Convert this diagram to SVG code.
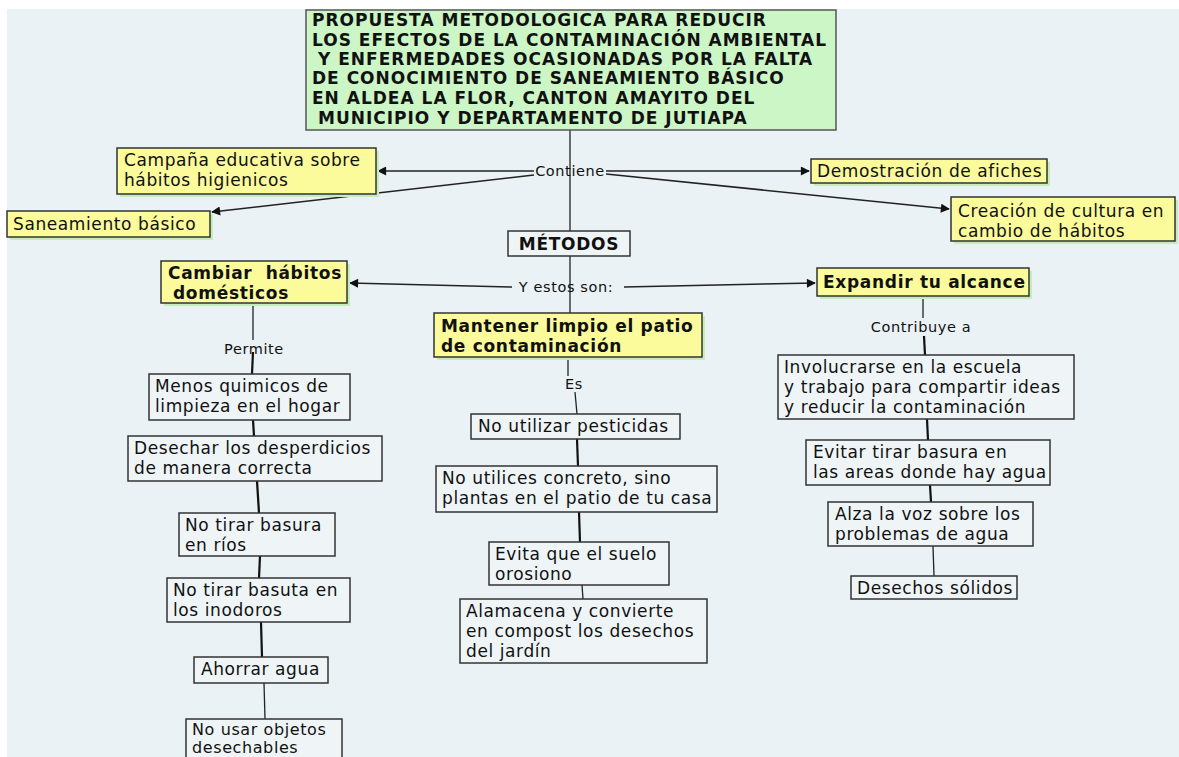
<svg xmlns="http://www.w3.org/2000/svg" width="1179" height="757" viewBox="0 0 1179 757">
<defs>
<style>
.bg{fill:#eaf2f5}
.title{fill:#ccf6c6;stroke:#555;stroke-width:1.5}
.yel{fill:#fbfb9c;stroke:#333;stroke-width:1.5}
.wht{fill:#eff5f7;stroke:#333;stroke-width:1.5}
.sh{fill:#c6ecbb}
.t{font-family:"DejaVu Sans","Verdana",sans-serif;font-size:17px;letter-spacing:0.6px;fill:#111}
.b{font-family:"DejaVu Sans","Verdana",sans-serif;font-size:17px;font-weight:bold;letter-spacing:0.7px;fill:#111}
.tt{font-family:"DejaVu Sans","Verdana",sans-serif;font-size:17px;font-weight:bold;letter-spacing:1px;fill:#111}
.l{font-family:"DejaVu Sans","Verdana",sans-serif;font-size:14.5px;letter-spacing:0.6px;fill:#111}
.c{stroke:#222;stroke-width:1.3;fill:none}
.c2{stroke:#111;stroke-width:2.2;fill:none}
.a{stroke:#222;stroke-width:1.5;fill:none;marker-end:url(#ah)}
</style>
<marker id="ah" viewBox="0 0 10 10" refX="9" refY="5" markerWidth="11" markerHeight="9" markerUnits="userSpaceOnUse" orient="auto">
<path d="M0,0 L10,5 L0,10 z" fill="#111"/>
</marker>
</defs>
<rect x="0" y="0" width="1179" height="757" fill="#ffffff"/>
<rect class="bg" x="7" y="9" width="1172" height="748"/>

<g id="connectors">
<line class="c" x1="570" y1="130" x2="570" y2="231"/>
<line class="a" x1="534" y1="171" x2="378" y2="171"/>
<line class="a" x1="534" y1="175" x2="212" y2="212"/>
<line class="a" x1="606" y1="171" x2="809" y2="171"/>
<line class="a" x1="606" y1="174" x2="949" y2="209"/>
<line class="c" x1="570" y1="256" x2="570" y2="313"/>
<line class="a" x1="512" y1="287" x2="350" y2="283"/>
<line class="a" x1="624" y1="287" x2="815" y2="283"/>
<line class="c" x1="253" y1="305" x2="253" y2="340"/>
<line class="c2" x1="253" y1="352" x2="252" y2="374"/>
<line class="c2" x1="253" y1="420" x2="254" y2="436"/>
<line class="c2" x1="257" y1="481" x2="259" y2="513"/>
<line class="c2" x1="260" y1="556" x2="259" y2="578"/>
<line class="c2" x1="261" y1="622" x2="262" y2="657"/>
<line class="c" x1="264" y1="683" x2="265" y2="719"/>
<line class="c" x1="568" y1="358" x2="568" y2="376"/>
<line class="c" x1="575" y1="392" x2="577" y2="414"/>
<line class="c2" x1="577" y1="439" x2="578" y2="466"/>
<line class="c2" x1="579" y1="512" x2="580" y2="542"/>
<line class="c" x1="582" y1="585" x2="583" y2="599"/>
<line class="c" x1="923" y1="299" x2="923" y2="318"/>
<line class="c2" x1="924" y1="336" x2="925" y2="355"/>
<line class="c2" x1="927" y1="419" x2="928" y2="440"/>
<line class="c2" x1="930" y1="485" x2="931" y2="502"/>
<line class="c" x1="933" y1="546" x2="934" y2="576"/>
<text class="l" x="570" y="176" text-anchor="middle">Contiene</text>
<text class="l" x="566" y="292" text-anchor="middle">Y estos son:</text>
<text class="l" x="254" y="354" text-anchor="middle">Permite</text>
<text class="l" x="574" y="389" text-anchor="middle">Es</text>
<text class="l" x="921" y="332" text-anchor="middle">Contribuye a</text>
</g>

<g id="n-title">
<rect class="title" x="306" y="10" width="530" height="120"/>
<text class="tt" x="312" y="26">PROPUESTA METODOLOGICA PARA REDUCIR</text>
<text class="tt" x="312" y="46">LOS EFECTOS DE LA CONTAMINACIÓN AMBIENTAL</text>
<text class="tt" x="318" y="65">Y ENFERMEDADES OCASIONADAS POR LA FALTA</text>
<text class="tt" x="312" y="84">DE CONOCIMIENTO DE SANEAMIENTO BÁSICO</text>
<text class="tt" x="312" y="104">EN ALDEA LA FLOR, CANTON AMAYITO DEL</text>
<text class="tt" x="318" y="124">MUNICIPIO Y DEPARTAMENTO DE JUTIAPA</text>
</g>

<g id="n-campana">
<rect class="sh" x="120" y="151" width="259" height="46"/>
<rect class="yel" x="117" y="148" width="259" height="46"/>
<text class="t" x="124" y="166">Campaña educativa sobre</text>
<text class="t" x="124" y="186">hábitos higienicos</text>
</g>
<g id="n-saneamiento">
<rect class="sh" x="10" y="214" width="203" height="26"/>
<rect class="yel" x="7" y="211" width="203" height="26"/>
<text class="t" x="13" y="230">Saneamiento básico</text>
</g>
<g id="n-demostracion">
<rect class="sh" x="814" y="162" width="236" height="24"/>
<rect class="yel" x="811" y="159" width="236" height="24"/>
<text class="t" x="817" y="177">Demostración de afiches</text>
</g>
<g id="n-creacion">
<rect class="sh" x="954" y="200" width="224" height="44"/>
<rect class="yel" x="951" y="197" width="224" height="44"/>
<text class="t" x="958" y="217">Creación de cultura en</text>
<text class="t" x="958" y="237">cambio de hábitos</text>
</g>
<g id="n-metodos">
<rect class="wht" x="508" y="231" width="122" height="25"/>
<text class="b" x="569" y="250" text-anchor="middle">MÉTODOS</text>
</g>
<g id="n-cambiar">
<rect class="sh" x="164" y="264" width="186" height="42"/>
<rect class="yel" x="161" y="261" width="186" height="42"/>
<text class="b" x="168" y="279" xml:space="preserve">Cambiar  hábitos</text>
<text class="b" x="173" y="299">domésticos</text>
</g>
<g id="n-expandir">
<rect class="sh" x="820" y="271" width="212" height="28"/>
<rect class="yel" x="817" y="268" width="212" height="28"/>
<text class="b" x="823" y="288">Expandir tu alcance</text>
</g>
<g id="n-mantener">
<rect class="sh" x="437" y="316" width="268" height="44"/>
<rect class="yel" x="434" y="313" width="268" height="44"/>
<text class="b" x="441" y="332">Mantener limpio el patio</text>
<text class="b" x="441" y="352">de contaminación</text>
</g>

<g id="n-menos">
<rect class="wht" x="149" y="374" width="201" height="46"/>
<text class="t" x="155" y="392">Menos quimicos de</text>
<text class="t" x="155" y="412">limpieza en el hogar</text>
</g>
<g id="n-desechar">
<rect class="wht" x="128" y="436" width="254" height="45"/>
<text class="t" x="134" y="454">Desechar los desperdicios</text>
<text class="t" x="134" y="474">de manera correcta</text>
</g>
<g id="n-rios">
<rect class="wht" x="179" y="513" width="156" height="43"/>
<text class="t" x="185" y="531">No tirar basura</text>
<text class="t" x="185" y="551">en ríos</text>
</g>
<g id="n-inodoros">
<rect class="wht" x="167" y="578" width="183" height="44"/>
<text class="t" x="173" y="596">No tirar basuta en</text>
<text class="t" x="173" y="616">los inodoros</text>
</g>
<g id="n-ahorrar">
<rect class="wht" x="194" y="657" width="134" height="26"/>
<text class="t" x="201" y="675">Ahorrar agua</text>
</g>
<g id="n-nousar">
<rect class="wht" x="186" y="719" width="156" height="46"/>
<text class="t" x="192" y="735" style="font-size:16px">No usar objetos</text>
<text class="t" x="192" y="753" style="font-size:16px">desechables</text>
</g>

<g id="n-pesticidas">
<rect class="wht" x="471" y="414" width="209" height="25"/>
<text class="t" x="478" y="432">No utilizar pesticidas</text>
</g>
<g id="n-concreto">
<rect class="wht" x="436" y="466" width="281" height="46"/>
<text class="t" x="442" y="484">No utilices concreto, sino</text>
<text class="t" x="442" y="504">plantas en el patio de tu casa</text>
</g>
<g id="n-evita">
<rect class="wht" x="489" y="542" width="180" height="43"/>
<text class="t" x="495" y="560">Evita que el suelo</text>
<text class="t" x="495" y="580">orosiono</text>
</g>
<g id="n-alamacena">
<rect class="wht" x="460" y="599" width="247" height="64"/>
<text class="t" x="466" y="617">Alamacena y convierte</text>
<text class="t" x="466" y="637">en compost los desechos</text>
<text class="t" x="466" y="657">del jardín</text>
</g>

<g id="n-involucrarse">
<rect class="wht" x="778" y="355" width="296" height="64"/>
<text class="t" x="784" y="373">Involucrarse en la escuela</text>
<text class="t" x="784" y="393">y trabajo para compartir ideas</text>
<text class="t" x="784" y="413">y reducir la contaminación</text>
</g>
<g id="n-evitar">
<rect class="wht" x="806" y="440" width="244" height="45"/>
<text class="t" x="813" y="458">Evitar tirar basura en</text>
<text class="t" x="813" y="478">las areas donde hay agua</text>
</g>
<g id="n-alza">
<rect class="wht" x="828" y="502" width="205" height="44"/>
<text class="t" x="835" y="520">Alza la voz sobre los</text>
<text class="t" x="835" y="540">problemas de agua</text>
</g>
<g id="n-desechos">
<rect class="wht" x="851" y="576" width="166" height="23"/>
<text class="t" x="857" y="594">Desechos sólidos</text>
</g>
</svg>
